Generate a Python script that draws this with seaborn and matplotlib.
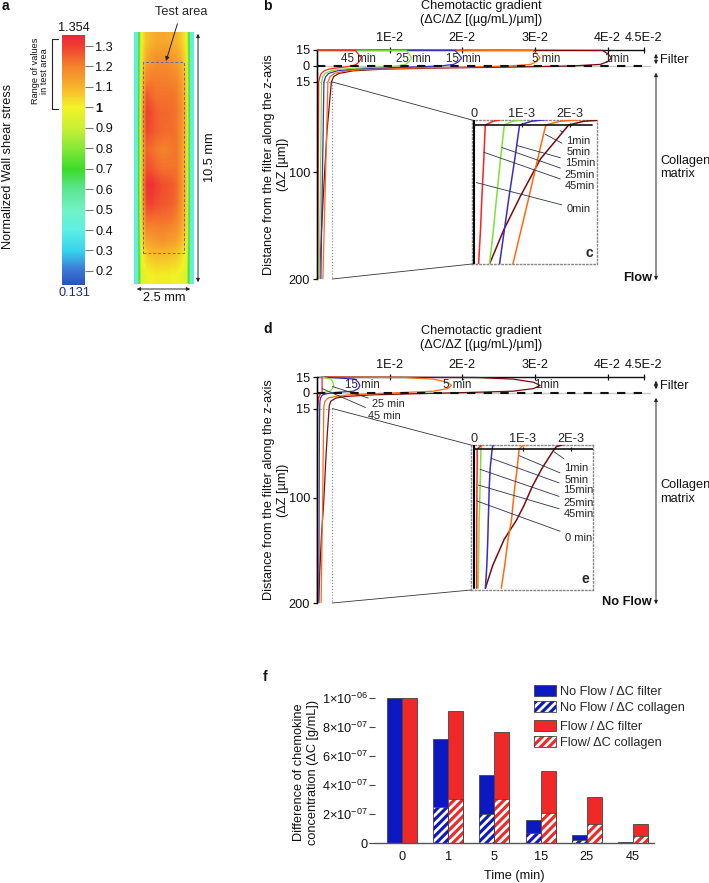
import matplotlib
matplotlib.use('Agg')
import matplotlib.pyplot as plt
from matplotlib.colors import LinearSegmentedColormap, Normalize
from matplotlib.cm import ScalarMappable
from matplotlib.patches import Rectangle, ConnectionPatch, FancyArrowPatch, Patch
from matplotlib.lines import Line2D
from matplotlib.transforms import blended_transform_factory
import numpy as np
import pandas as pd
import seaborn as sns

# ---------------- data ----------------
# panel a : normalized wall shear stress
wss_min, wss_max = 0.131, 1.354
wss_ticks = [0.2, 0.3, 0.4, 0.5, 0.6, 0.7, 0.8, 0.9, 1.0, 1.1, 1.2, 1.3]
wss_tick_labels = ['0.2', '0.3', '0.4', '0.5', '0.6', '0.7', '0.8', '0.9', '1', '1.1', '1.2', '1.3']
cmap_values = [0.131, 0.2, 0.3, 0.4, 0.5, 0.6, 0.7, 0.8, 0.9, 1.0, 1.1, 1.2, 1.3, 1.354]
cmap_colors = ['#2c50c0', '#3a78d6', '#38d4ec', '#5ef0e4', '#70f2c4', '#5ae690', '#3cdc28',
               '#88e838', '#c8f034', '#f2f226', '#f8b42c', '#f5822c', '#f04030', '#e8283c']
# rows = top -> bottom of the channel, columns = left wall -> right wall
wss_field = [
    [0.40, 1.00, 1.08, 1.10, 1.12, 1.12, 1.12, 1.11, 1.10, 1.06, 1.00, 0.40],
    [0.40, 1.02, 1.12, 1.15, 1.17, 1.17, 1.17, 1.16, 1.14, 1.10, 1.02, 0.40],
    [0.40, 1.04, 1.18, 1.20, 1.20, 1.20, 1.20, 1.19, 1.18, 1.14, 1.04, 0.40],
    [0.40, 1.06, 1.26, 1.24, 1.22, 1.22, 1.22, 1.22, 1.21, 1.16, 1.05, 0.40],
    [0.40, 1.08, 1.30, 1.28, 1.25, 1.24, 1.24, 1.23, 1.22, 1.17, 1.06, 0.40],
    [0.40, 1.08, 1.29, 1.27, 1.25, 1.24, 1.23, 1.23, 1.22, 1.17, 1.06, 0.40],
    [0.40, 1.06, 1.24, 1.23, 1.21, 1.20, 1.20, 1.21, 1.22, 1.16, 1.05, 0.40],
    [0.40, 1.07, 1.27, 1.26, 1.24, 1.22, 1.22, 1.22, 1.22, 1.16, 1.05, 0.40],
    [0.40, 1.08, 1.32, 1.33, 1.30, 1.28, 1.27, 1.26, 1.24, 1.17, 1.06, 0.40],
    [0.40, 1.07, 1.29, 1.30, 1.28, 1.27, 1.26, 1.25, 1.23, 1.16, 1.05, 0.40],
    [0.40, 1.05, 1.22, 1.22, 1.22, 1.22, 1.22, 1.21, 1.19, 1.14, 1.04, 0.40],
    [0.40, 1.02, 1.14, 1.15, 1.16, 1.17, 1.16, 1.15, 1.14, 1.10, 1.02, 0.40],
    [0.40, 0.98, 1.05, 1.07, 1.08, 1.08, 1.08, 1.07, 1.06, 1.03, 0.98, 0.40],
    [0.40, 0.95, 0.99, 1.00, 1.01, 1.01, 1.01, 1.00, 1.00, 0.98, 0.95, 0.40],
]

# panels b/c : gradient profiles with flow (z in um, filter = -15..0)
flow_z = [-15, -14.6, -11, -7.5, -4, -1.5, 0, 1, 2, 3, 4.5, 7, 10, 15, 60, 110, 155, 200]
flow_1min = [0, 0.0393, 0.0401, 0.0405, 0.0400, 0.0390, 0.0350, 0.0270, 0.0160, 0.0090, 0.0050,
             0.0030, 0.0023, 0.00198, 0.00139, 0.000965, 0.000615, 0.00032]
flow_5min = [0, 0.0297, 0.0303, 0.0307, 0.0302, 0.0294, 0.0265, 0.0205, 0.0125, 0.0070, 0.0040,
             0.0024, 0.0018, 0.00150, 0.00133, 0.00115, 0.00098, 0.00081]
flow_15min = [0, 0.0190, 0.0195, 0.0199, 0.0195, 0.0188, 0.0170, 0.0130, 0.0080, 0.0048, 0.0028,
              0.0016, 0.0012, 0.00095, 0.00085, 0.00073, 0.00063, 0.00053]
flow_25min = [0, 0.0123, 0.0127, 0.0130, 0.0127, 0.0122, 0.0110, 0.0085, 0.0055, 0.0033, 0.0019,
              0.0011, 0.0008, 0.00063, 0.00055, 0.00047, 0.00040, 0.00032]
flow_45min = [0, 0.0053, 0.0057, 0.0061, 0.0058, 0.0054, 0.0048, 0.0038, 0.0025, 0.0016, 0.0010,
              0.0006, 0.0004, 0.00023, 0.00020, 0.00016, 0.00013, 0.00009]
flow_0min = [0] * len(flow_z)

# panels d/e : gradient profiles without flow
noflow_z = [-15, -14.5, -13, -10, -7, -4, -1.5, -0.3, 1, 2, 3.5, 5, 8, 12,
            15, 40, 65, 90, 110, 135, 170, 200]
noflow_1min = [0.001, 0.022, 0.027, 0.0298, 0.0307, 0.0298, 0.027, 0.021, 0.013, 0.0075, 0.0040,
               0.0026, 0.0019, 0.0017,
               0.00166, 0.00141, 0.00120, 0.00103, 0.00087, 0.00062, 0.00038, 0.00023]
noflow_5min = [0.001, 0.012, 0.016, 0.018, 0.0185, 0.018, 0.016, 0.012, 0.0075, 0.0045, 0.0025,
               0.0015, 0.0011, 0.00098,
               0.00093, 0.00089, 0.00084, 0.00080, 0.00077, 0.00070, 0.00063, 0.00056]
noflow_15min = [0.0005, 0.002, 0.0052, 0.0057, 0.0059, 0.0057, 0.0050, 0.0025, 0.0012, 0.0008,
                0.0006, 0.0005, 0.0004, 0.00038,
                0.00037, 0.00033, 0.00031, 0.00030, 0.00029, 0.00028, 0.00026, 0.00023]
noflow_25min = [0.0003, 0.0010, 0.0019, 0.0022, 0.0023, 0.0021, 0.0018, 0.0009, 0.0005, 0.0004,
                0.0003, 0.00022, 0.00017, 0.00015,
                0.000136, 0.00013, 0.00012, 0.00011, 0.00010, 0.000095, 0.000088, 0.00008]
noflow_45min = [0.0007, 0.0007, 0.0007, 0.0007, 0.0007, 0.0007, 0.0007, 0.0007, 0.0005, 0.0004,
                0.0003, 0.00022, 0.00017, 0.00012,
                0.00006, 0.00006, 0.000055, 0.000055, 0.00005, 0.00005, 0.00005, 0.00005]
noflow_0min = [0] * len(noflow_z)

curve_names = ['1min', '5min', '15min', '25min', '45min', '0min']
curve_colors = ['#7a0c0c', '#ff6a10', '#3a2cc4', '#7ee03a', '#ff2020', '#000000']

# panel f : concentration difference (x1e-6 g/mL)
times = ['0', '1', '5', '15', '25', '45']
noflow_filter = [1.0, 0.717, 0.467, 0.159, 0.053, 0.005]
noflow_collagen = [0.0, 0.250, 0.198, 0.067, 0.022, 0.002]
flow_filter = [1.0, 0.912, 0.763, 0.497, 0.317, 0.131]
flow_collagen = [0.0, 0.305, 0.305, 0.205, 0.129, 0.050]

# ---------------- style ----------------
sns.set_theme(style='white', context='paper')
plt.rcParams['font.family'] = ['Liberation Sans', 'DejaVu Sans']
plt.rcParams['mathtext.fontset'] = 'custom'
plt.rcParams['mathtext.rm'] = 'Liberation Sans'
plt.rcParams['mathtext.it'] = 'Liberation Sans:italic'
plt.rcParams['mathtext.bf'] = 'Liberation Sans:bold'
plt.rcParams['hatch.linewidth'] = 2.0

FS = 9.2
W, H = 709, 883
fig = plt.figure(figsize=(W / 100, H / 100), dpi=100)


def px_axes(x0, y0, x1, y1):
    return fig.add_axes([x0 / W, 1 - y1 / H, (x1 - x0) / W, (y1 - y0) / H])


def fx(x):
    return x / W


def fy(y):
    return 1 - y / H


def ftext(x, y, s, **kw):
    kw.setdefault('fontsize', FS)
    kw.setdefault('color', '#111111')
    fig.text(fx(x), fy(y), s, **kw)


def farrow(p0, p1, style='<|-|>'):
    fig.add_artist(FancyArrowPatch((fx(p0[0]), fy(p0[1])), (fx(p1[0]), fy(p1[1])),
                                   transform=fig.transFigure, arrowstyle=style,
                                   mutation_scale=5, lw=0.7, color='#222222'))


def fline(xs, ys, **kw):
    fig.add_artist(Line2D([fx(x) for x in xs], [fy(y) for y in ys],
                          transform=fig.transFigure, **kw))


# ================= panel a =================
ftext(2, 6, 'a', fontweight='bold', fontsize=10, va='center')
cmap = LinearSegmentedColormap.from_list(
    'wss', [((v - wss_min) / (wss_max - wss_min), c) for v, c in zip(cmap_values, cmap_colors)])
norm = Normalize(wss_min, wss_max)

cax = px_axes(62, 35, 85, 285)
cb = fig.colorbar(ScalarMappable(norm=norm, cmap=cmap), cax=cax)
cb.outline.set_visible(False)
cb.set_ticks(wss_ticks)
cb.set_ticklabels(wss_tick_labels)
cax.tick_params(length=6, width=0.8, color='#777777', labelsize=FS, pad=1.5, labelcolor='#111111')
for t in cax.get_yticklabels():
    if t.get_text() == '1':
        t.set_fontweight('bold')
ftext(74, 28, '1.354', ha='center', va='center')
ftext(74, 293, '0.131', ha='center', va='center', color='#1a2a80')
ftext(8, 166, 'Normalized Wall shear stress', rotation=90, ha='center', va='center')
ftext(40, 71, 'Range of values\nin test area', rotation=90, ha='center', va='center',
      fontsize=6.6, linespacing=1.0)
fline([58, 52, 52, 58], [39, 39, 109, 109], color='#222222', lw=0.8)

axh = px_axes(134, 32, 193, 284)
axh.imshow(np.array(wss_field), cmap=cmap, norm=norm, aspect='auto',
           interpolation='bilinear', extent=(0, 1, 0, 1))
axh.set_xlim(0, 1)
axh.set_ylim(0, 1)
axh.axis('off')
axh.add_patch(Rectangle((0.153, 0.123), 0.694, 0.758, transform=axh.transAxes, fill=False,
                        ls=(0, (3, 2)), lw=0.7, ec='#6a6a8a'))
axh.annotate('Test area', xy=(fx(166), fy(61)), xycoords='figure fraction',
             xytext=(fx(181), fy(12)), textcoords='figure fraction', ha='center', va='center',
             fontsize=FS, arrowprops=dict(arrowstyle='-|>', lw=0.7, color='#222222',
                                          mutation_scale=6, shrinkA=2, shrinkB=0))
farrow((198, 31), (198, 285))
ftext(210, 157, '10.5 mm', rotation=90, ha='center', va='center')
farrow((134, 289), (193, 289))
ftext(164, 298, '2.5 mm', ha='center', va='center')


# ================= panels b-e =================
def profile_panel(box, z, series, letter, letter_y, title_y, curve_labels, inset_box,
                  inset_xlim, inset_ylim, inset_letter, inset_labels, flow_word, right_ys):
    ax = px_axes(*box)
    for g, c, n in zip(series, curve_colors, curve_names):
        ax.plot(g, z, color=c, lw=0.9, clip_on=False, solid_capstyle='butt', zorder=3)
    ax.set_xlim(0, 0.045)
    ax.set_ylim(200, -15)
    ax.xaxis.tick_top()
    ax.set_xticks([0.01, 0.02, 0.03, 0.04, 0.045])
    ax.set_xticklabels(['1E-2', '2E-2', '3E-2', '4E-2', '4.5E-2'])
    ax.set_yticks([-15, 0, 15, 100, 200])
    ax.set_yticklabels(['15', '0', '15', '100', '200'])
    ax.tick_params(axis='x', direction='inout', length=5, width=0.9, pad=1.5, labelsize=FS,
                   top=True, bottom=False, colors='#111111')
    ax.tick_params(axis='y', direction='out', length=3, width=0.9, pad=2, labelsize=FS,
                   left=True, colors='#111111')
    for s in ['right', 'bottom']:
        ax.spines[s].set_visible(False)
    for s in ['top', 'left']:
        ax.spines[s].set_color('#111111')
        ax.spines[s].set_linewidth(1.0)
    # filter / collagen boundary
    ax.plot([0, 0.0458], [0, 0], color='#c8c8c8', lw=1.0, clip_on=False, zorder=2)
    ax.plot([0, 0.0458], [0, 0], color='#111111', lw=1.5, dashes=(4, 4), clip_on=False, zorder=4)
    for txt, gx, gz in curve_labels:
        ax.text(gx, gz, txt, ha='center', va='center', fontsize=8.3, zorder=5)
    # zoomed area
    ax.add_patch(Rectangle((0, 15), 0.0021, 185, fill=False, ls=':', lw=0.8, ec='#888888', zorder=2))

    ins = px_axes(*inset_box)
    for g, c in zip(series, curve_colors):
        ins.plot(g, z, color=c, lw=1.5 if c == '#000000' else 1.1, zorder=3)
    ins.set_xlim(*inset_xlim)
    ins.set_ylim(*inset_ylim)
    ins.set_xticks([])
    ins.set_yticks([])
    for s in ins.spines.values():
        s.set_linestyle(':')
        s.set_color('#888888')
        s.set_linewidth(1.0)
    ins.plot([0, 2.47e-3], [15, 15], color='#111111', lw=1.2, zorder=4)
    ins.vlines([0, 1e-3, 2e-3], 12.5, 17.5, color='#111111', lw=0.9, zorder=4)
    tr = blended_transform_factory(ins.transData, ins.transAxes)
    for v, lbl in zip([0, 1e-3, 2e-3], ['0', '1E-3', '2E-3']):
        ins.text(v, 1.0, lbl, transform=tr, ha='center', va='bottom', fontsize=FS)
    ins.text(0.97, 0.03, inset_letter, transform=ins.transAxes, ha='right', va='bottom',
             fontsize=10, fontweight='bold')
    for txt, p0, p1 in inset_labels:
        ins.annotate(txt, xy=p0, xytext=p1, ha='left', va='center', fontsize=8,
                     arrowprops=dict(arrowstyle='-', lw=0.6, color='#2a3050', shrinkA=1, shrinkB=0))

    fig.add_artist(ConnectionPatch(xyA=(0.0021, 15), coordsA=ax.transData, xyB=(0, 1),
                                   coordsB=ins.transAxes, color='#333333', lw=0.6))
    fig.add_artist(ConnectionPatch(xyA=(0.0021, 200), coordsA=ax.transData, xyB=(0, 0),
                                   coordsB=ins.transAxes, color='#333333', lw=0.6))

    ftext(263, letter_y, letter, fontweight='bold', fontsize=10, va='center')
    ftext(481, title_y, 'Chemotactic gradient\n(ΔC/ΔZ [(µg/mL)/µm])', ha='center',
          va='center', linespacing=1.25)
    y0, y1, y2 = right_ys
    ftext(276, (box[1] + box[3]) / 2, 'Distance from the filter along the z-axis\n(ΔZ [µm])',
          rotation=90, ha='center', va='center', linespacing=1.2)
    farrow((656, y0 + 1), (656, y1 - 1))
    farrow((656, y1 + 2), (656, y2))
    ftext(660, (y0 + y1) / 2 + 1, 'Filter', va='center')
    ftext(660, (y1 + y2) / 2 - 8, 'Collagen\nmatrix', va='center', linespacing=1.2)
    ftext(652, y2 - 5, flow_word, ha='right', va='center', fontweight='bold')
    return ax, ins


profile_panel(
    (317, 50, 644, 279), flow_z,
    [flow_1min, flow_5min, flow_15min, flow_25min, flow_45min, flow_0min],
    'b', 6, 13,
    [('45 min', 0.0057, -6.5), ('25 min', 0.0133, -6.5), ('15 min', 0.0202, -6.5),
     ('5 min', 0.0315, -6.5), ('1min', 0.0412, -6.5)],
    (472, 120, 597, 264), (-0.048e-3, 2.574e-3), (200, 8.36), 'c',
    [('1min', (1.80e-3, 22.5), (1.93e-3, 36)), ('5min', (1.49e-3, 27.4), (1.93e-3, 51)),
     ('15min', (0.90e-3, 42.4), (1.90e-3, 66)), ('25min', (0.58e-3, 45), (1.90e-3, 81.5)),
     ('45min', (0.20e-3, 51.3), (1.90e-3, 96)), ('0min', (0.04e-3, 91.6), (1.93e-3, 127))],
    'Flow', (50, 68, 283))

axd, insd = profile_panel(
    (317, 377, 644, 603), noflow_z,
    [noflow_1min, noflow_5min, noflow_15min, noflow_25min, noflow_45min, noflow_0min],
    'd', 329, 338,
    [('15 min', 0.0063, -7.4), ('5 min', 0.0193, -7.4), ('1min', 0.0316, -7.4)],
    (471, 445, 593, 590), (-0.068e-3, 2.46e-3), (202.3, 9.7), 'e',
    [('1min', (1.65e-3, 18.5), (1.87e-3, 40)), ('5min', (0.93e-3, 23.9), (1.87e-3, 56)),
     ('15min', (0.35e-3, 27.4), (1.85e-3, 69.5)), ('25min', (0.12e-3, 42), (1.85e-3, 87)),
     ('45min', (0.08e-3, 62.8), (1.85e-3, 102)), ('0 min', (0.05e-3, 84), (1.87e-3, 133))],
    'No Flow', (377, 393, 607))
axd.annotate('25 min', xy=(0.0021, -6), xytext=(0.0075, 11.0), ha='left', va='center',
             fontsize=7.8, arrowprops=dict(arrowstyle='-', lw=0.6, color='#333333', shrinkA=0, shrinkB=0))
axd.annotate('45 min', xy=(0.0007, -4), xytext=(0.0070, 21.8), ha='left', va='center',
             fontsize=7.8, arrowprops=dict(arrowstyle='-', lw=0.6, color='#333333', shrinkA=0, shrinkB=0))

# ================= panel f =================
blue, red = '#0c18c0', '#f02828'
axf = px_axes(375, 695, 654, 843)
conds = ['No Flow', 'Flow']
df_filter = pd.DataFrame({'time': times * 2, 'cond': [conds[0]] * 6 + [conds[1]] * 6,
                          'dc': [v * 1e-6 for v in noflow_filter + flow_filter]})
df_coll = pd.DataFrame({'time': times * 2, 'cond': [conds[0]] * 6 + [conds[1]] * 6,
                        'dc': [v * 1e-6 for v in noflow_collagen + flow_collagen]})
sns.barplot(data=df_filter, x='time', y='dc', hue='cond', order=times, hue_order=conds,
            palette=[blue, red], saturation=1, width=0.65, errorbar=None, legend=False,
            edgecolor='#444444', linewidth=0.6, ax=axf)
n0 = len(axf.patches)
sns.barplot(data=df_coll, x='time', y='dc', hue='cond', order=times, hue_order=conds,
            palette=[blue, red], saturation=1, width=0.65, errorbar=None, legend=False,
            linewidth=0, ax=axf)
for p in axf.patches[n0:]:
    p.set_hatch('////')
    p.set_edgecolor('white')
    p.set_linewidth(0)
    if p.get_height() > 0:
        axf.add_patch(Rectangle((p.get_x(), 0), p.get_width(), p.get_height(), fill=False,
                                ec='#444444', lw=0.6, zorder=p.get_zorder() + 0.1))
axf.set_xlim(-0.58, 5.45)
axf.set_ylim(0, 1.02e-6)
axf.set_xlabel('')
axf.set_ylabel('')
yt = [0, 2e-7, 4e-7, 6e-7, 8e-7, 1e-6]
axf.set_yticks(yt)
axf.set_yticklabels(['0', r'$2{\times}10^{-07}$', r'$4{\times}10^{-07}$', r'$6{\times}10^{-07}$',
                     r'$8{\times}10^{-07}$', r'$1{\times}10^{-06}$'])
axf.tick_params(axis='y', left=True, length=4, width=0.8, color='#444444', pad=1,
                labelsize=FS, labelcolor='#111111')
axf.tick_params(axis='x', bottom=False, length=0, pad=6, labelsize=FS, labelcolor='#111111')
for s in ['top', 'right', 'left']:
    axf.spines[s].set_visible(False)
axf.spines['bottom'].set_color('#555555')
axf.spines['bottom'].set_linewidth(1.0)

hatched = lambda c: (Patch(facecolor=c, edgecolor='white', hatch='////', lw=0),
                     Patch(fill=False, edgecolor='#444444', lw=0.6))
leg_kw = dict(loc='upper left', frameon=False, fontsize=FS, borderpad=0, handlelength=1.7,
              handleheight=0.95, handletextpad=0.3, labelspacing=0.26, borderaxespad=0)
leg1 = fig.legend([Patch(facecolor=blue, edgecolor='#444444', lw=0.6), hatched(blue)],
                  ['No Flow / ΔC filter', 'No Flow / ΔC collagen'],
                  bbox_to_anchor=(fx(534), fy(685)), **leg_kw)
leg2 = fig.legend([Patch(facecolor=red, edgecolor='#444444', lw=0.6), hatched(red)],
                  ['Flow / ΔC filter', 'Flow/ ΔC collagen'],
                  bbox_to_anchor=(fx(534), fy(720)), **leg_kw)

ftext(263, 677, 'f', fontweight='bold', fontsize=10, va='center')
ftext(306, 772, 'Difference of chemokine\nconcentration (ΔC [g/mL])', rotation=90,
      ha='center', va='center', linespacing=1.2)
ftext(514, 876, 'Time (min)', ha='center', va='center')

fig.savefig('out.png', dpi=100)
